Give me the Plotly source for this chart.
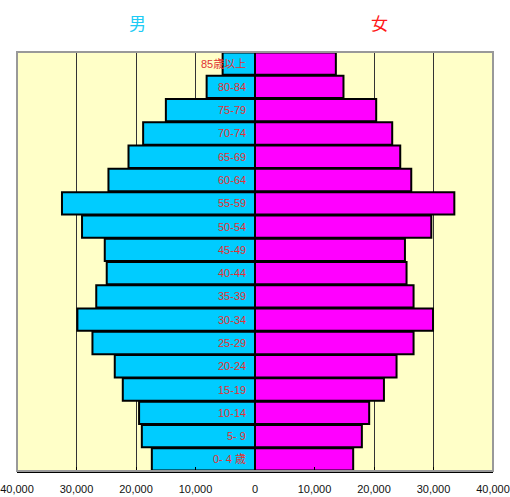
import plotly.graph_objects as go

# Age groups, youngest first (bottom of the pyramid)
age_groups = ["0- 4 歳", "5- 9", "10-14", "15-19", "20-24", "25-29", "30-34",
              "35-39", "40-44", "45-49", "50-54", "55-59", "60-64", "65-69",
              "70-74", "75-79", "80-84", "85歳以上"]

male = [17340, 19020, 19480, 22220, 23570, 27320, 29850, 26680, 24920,
        25250, 29070, 32440, 24630, 21260, 18800, 14980, 8130, 5440]

female = [16500, 17960, 19190, 21670, 23790, 26650, 29920, 26650, 25470,
          25200, 29630, 33500, 26260, 24410, 23060, 20370, 14870, 13590]

tick_vals = [-40000, -30000, -20000, -10000, 0, 10000, 20000, 30000, 40000]
tick_text = ["40,000", "30,000", "20,000", "10,000", "0",
             "10,000", "20,000", "30,000", "40,000"]

fig = go.Figure()
fig.add_trace(go.Bar(
    y=age_groups, x=[-v for v in male], orientation="h",
    marker=dict(color="#00CCFF", line=dict(color="black", width=2)),
    hoverinfo="skip", name="男",
))
fig.add_trace(go.Bar(
    y=age_groups, x=female, orientation="h",
    marker=dict(color="#FF00FF", line=dict(color="black", width=2)),
    hoverinfo="skip", name="女",
))

annotations = []
for g in age_groups:
    annotations.append(dict(
        x=-1100, y=g, xref="x", yref="y", text=g, showarrow=False,
        xanchor="right", yanchor="middle",
        font=dict(size=11, color="#E03333",
                  family="Liberation Sans, Noto Sans CJK JP"),
    ))
annotations.append(dict(
    x=-19800, y=1.07, xref="x", yref="paper", text="男", showarrow=False,
    xanchor="center", yanchor="middle",
    font=dict(size=17, color="#1ECBF5", family="Noto Sans CJK JP"),
))
annotations.append(dict(
    x=21000, y=1.07, xref="x", yref="paper", text="女", showarrow=False,
    xanchor="center", yanchor="middle",
    font=dict(size=17, color="#FF1A1A", family="Noto Sans CJK JP"),
))

fig.update_layout(
    width=510, height=497,
    margin=dict(l=17, r=17, t=52, b=26, autoexpand=False),
    barmode="relative", bargap=0.04,
    plot_bgcolor="#FFFFC8", paper_bgcolor="white",
    showlegend=False,
    annotations=annotations,
    xaxis=dict(
        range=[-40000, 40000], tickvals=tick_vals, ticktext=tick_text,
        showgrid=True, gridcolor="#333333", gridwidth=1, zeroline=False,
        ticks="inside", ticklen=4, tickcolor="black",
        showline=True, linecolor="black", linewidth=2,
        ticklabelstandoff=7,
        tickfont=dict(size=11, color="#111111", family="Liberation Sans"),
        fixedrange=True, automargin=False,
    ),
    yaxis=dict(showticklabels=False, showgrid=False, zeroline=False,
               ticks="", fixedrange=True, automargin=False),
    shapes=[dict(type="rect", xref="paper", yref="paper", x0=0, x1=1, y0=0, y1=1,
                 line=dict(color="#999999", width=2), layer="above")],
)

fig.write_html("out.html")
